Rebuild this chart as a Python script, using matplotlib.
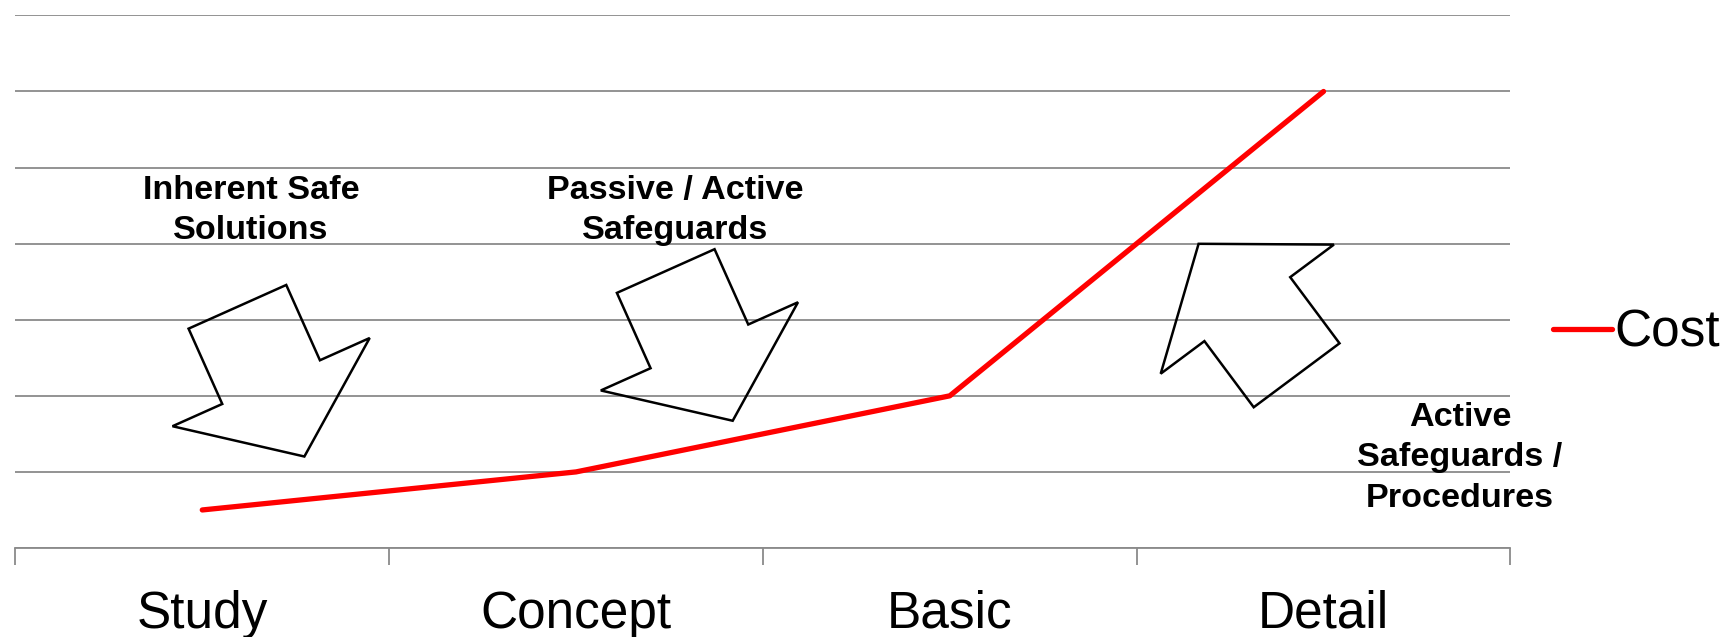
import numpy as np
import matplotlib
matplotlib.use("Agg")
import matplotlib.pyplot as plt
from matplotlib.patches import Polygon
from matplotlib.transforms import Affine2D, ScaledTranslation

# project phases and relative cost of a change in each phase
phases = ["Study", "Concept", "Basic", "Detail"]
cost = [0.5, 1, 2, 6]

# safety measures noted over the phases: label, baseline of last line (x, y)
measure_labels = ["Inherent Safe\nSolutions", "Passive / Active\nSafeguards",
                  "Active\nSafeguards /\nProcedures"]
measure_text_x = [0.13, 1.265, 3.365]
measure_text_y = [4.06, 4.06, 0.545]

# block arrows: tail centre (data units) and direction in degrees
arrow_x = [0.094, 1.24, 2.928]
arrow_y = [3.17, 3.64, 2.27]
arrow_angle = [-65.9, -65.9, 126.7]

GRID = "#8a8a8a"
plt.rcParams["font.family"] = ["Liberation Sans", "DejaVu Sans"]

fig = plt.figure(figsize=(17.25, 6.37), dpi=100)
ax = fig.add_axes([15.4 / 1725, 1 - 548 / 637, 1495 / 1725, 532.6 / 637])

x = np.arange(len(phases))
ax.plot(x, cost, color="#ff0000", lw=3.8, solid_capstyle="round",
        solid_joinstyle="round", label="Cost", zorder=3)

ax.set_xlim(-0.5, len(phases) - 0.5)
ax.set_ylim(0, 7)
ax.set_yticks(np.arange(0, 8))
ax.yaxis.grid(True, color=GRID, lw=1.3)
ax.tick_params(axis="y", left=False, labelleft=False)

# labels centred under each phase, tick marks on the boundaries
ax.set_xticks(x)
ax.set_xticklabels(phases, fontsize=37)
ax.tick_params(axis="x", which="major", length=0, pad=30)
ax.set_xticks(np.arange(-0.5, len(phases)), minor=True)
ax.tick_params(axis="x", which="minor", length=12.2, width=1.3, color=GRID)

for side in ["left", "right", "top"]:
    ax.spines[side].set_visible(False)
ax.spines["bottom"].set_color(GRID)
ax.spines["bottom"].set_linewidth(1.3)
ax.set_axisbelow(True)

for label, tx, ty in zip(measure_labels, measure_text_x, measure_text_y):
    ax.text(tx, ty, label, ha="center", va="baseline", fontsize=24.6,
            fontweight="bold", linespacing=1.38, multialignment="center")

# block arrow outline in inches, pointing along +x, tail centre at origin
shaft_w, shaft_l, head_w, total_l = 0.535, 0.825, 1.08, 1.64
arrow_shape = np.array([
    [0, -shaft_w], [shaft_l, -shaft_w], [shaft_l, -head_w], [total_l, 0],
    [shaft_l, head_w], [shaft_l, shaft_w], [0, shaft_w],
])
for ax_x, ax_y, ang in zip(arrow_x, arrow_y, arrow_angle):
    tr = (Affine2D().rotate_deg(ang) + fig.dpi_scale_trans
          + ScaledTranslation(ax_x, ax_y, ax.transData))
    ax.add_patch(Polygon(arrow_shape, closed=True, fill=False, ec="black",
                         lw=1.8, transform=tr, zorder=4))

fig.legend(loc="center left", bbox_to_anchor=(1553 / 1725, 1 - 333 / 637),
           frameon=False, fontsize=37, handlelength=1.15, handletextpad=0.05,
           borderpad=0, borderaxespad=0)

fig.savefig("out.png", dpi=100)
